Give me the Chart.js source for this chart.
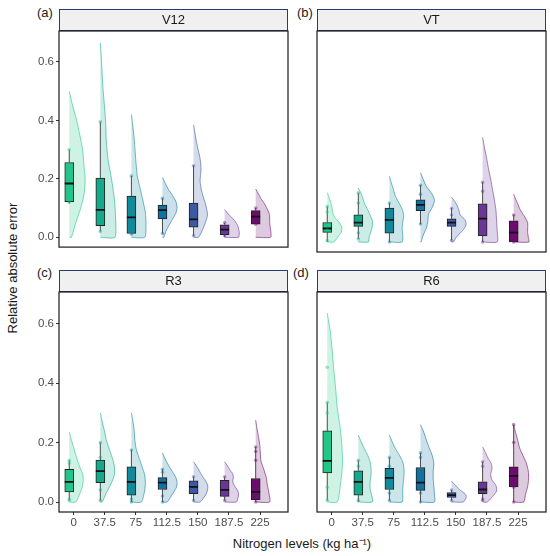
<!DOCTYPE html>
<html>
<head>
<meta charset="utf-8">
<script src="https://cdn.jsdelivr.net/npm/chart.js@4/dist/chart.umd.min.js"></script>
<style>
  body { margin: 0; width: 550px; height: 556px; position: relative; background: #fff; overflow: hidden;
         font-family: "Liberation Sans", Arial, Helvetica, sans-serif; }
  canvas { position: absolute; }
  .txt { position: absolute; color: #1a1a1a; font-size: 13px; white-space: nowrap; }
</style>
</head>
<body>
<div class="txt" style="left:37px; top:5px;">(a)</div>
<div class="txt" style="left:297px; top:5px;">(b)</div>
<div class="txt" style="left:37px; top:265px;">(c)</div>
<div class="txt" style="left:293px; top:265px;">(d)</div>
<div class="txt" style="left:12px; top:268px; transform: translate(-50%, -50%) rotate(-90deg);">Relative absolute error</div>
<div class="txt" style="left:302px; top:543px; transform: translate(-50%, -50%);">Nitrogen levels (kg ha⁻¹)</div>

<canvas id="p0" width="268" height="256" style="left:24px; top:0px;"></canvas>
<canvas id="p1" width="250" height="256" style="left:300px; top:0px;"></canvas>
<canvas id="p2" width="268" height="296" style="left:24px; top:260px;"></canvas>
<canvas id="p3" width="250" height="296" style="left:300px; top:260px;"></canvas>

<script>
// growth stages (facets) and nitrogen levels (x categories)
const stages = ['V12', 'VT', 'R3', 'R6'];
const nitrogenLevels = ['0', '37.5', '75', '112.5', '150', '187.5', '225'];
const yTicks = [0, 0.2, 0.4, 0.6];

// box plot stats, one row per stage
const boxQ1 = [
  [0.122, 0.040, 0.013, 0.063, 0.035, 0.009, 0.045],
  [0.032, 0.052, 0.029, 0.105, 0.052, 0.020, 0.000],
  [0.034, 0.065, 0.023, 0.042, 0.028, 0.019, 0.008],
  [0.098, 0.023, 0.042, 0.039, 0.015, 0.028, 0.051]
];
const boxMedian = [
  [0.184, 0.094, 0.068, 0.093, 0.061, 0.026, 0.071],
  [0.045, 0.065, 0.074, 0.124, 0.065, 0.078, 0.031],
  [0.068, 0.104, 0.068, 0.065, 0.051, 0.041, 0.034],
  [0.138, 0.068, 0.081, 0.065, 0.023, 0.042, 0.088]
];
const boxQ3 = [
  [0.256, 0.203, 0.141, 0.110, 0.117, 0.043, 0.091],
  [0.065, 0.091, 0.113, 0.141, 0.077, 0.128, 0.071],
  [0.110, 0.141, 0.118, 0.082, 0.071, 0.073, 0.079],
  [0.239, 0.105, 0.113, 0.116, 0.032, 0.068, 0.118]
];
const whiskerLow = [
  [0.115, 0.020, 0.010, 0.013, 0.005, 0.002, 0.045],
  [0.000, 0.010, 0.000, 0.060, 0.005, 0.000, 0.000],
  [0.005, 0.005, 0.000, 0.000, 0.005, 0.005, 0.000],
  [0.005, 0.000, 0.005, 0.000, 0.005, 0.005, 0.000]
];
const whiskerHigh = [
  [0.300, 0.395, 0.210, 0.133, 0.245, 0.050, 0.100],
  [0.119, 0.164, 0.130, 0.190, 0.113, 0.200, 0.090],
  [0.140, 0.200, 0.175, 0.110, 0.085, 0.085, 0.185],
  [0.335, 0.140, 0.150, 0.165, 0.040, 0.135, 0.260]
];

// raw observations shown as dots
const obsV12 = [[0.30, 0.12], [0.395, 0.02], [0.21, 0.01], [0.133, 0.013], [0.245, 0.005], [0.05, 0.005], [0.10, 0.045]];
const obsVT = [[0.119, 0.10, 0.005, 0.04], [0.164, 0.13, 0.03, 0.01], [0.13, 0.08, 0.0], [0.19, 0.16, 0.06],
               [0.113, 0.09, 0.005], [0.20, 0.17, 0.0], [0.09, 0.0, 0.005]];
const obsR3 = [[0.14, 0.13, 0.01, 0.005], [0.20, 0.15, 0.04, 0.005], [0.175, 0.0, 0.01], [0.11, 0.10, 0.0, 0.02],
               [0.085, 0.005], [0.085, 0.005, 0.02], [0.185, 0.17, 0.14, 0.0]];
const obsR6 = [[0.453, 0.335, 0.30, 0.20, 0.05, 0.005], [0.14, 0.12, 0.005], [0.15, 0.12, 0.03, 0.005],
               [0.165, 0.15, 0.03, 0.0], [0.04, 0.005], [0.135, 0.12, 0.01, 0.005], [0.26, 0.20, 0.05, 0.0]];
const observations = [obsV12, obsVT, obsR3, obsR6];

// half-violin: top of density and its width (x units) at 11 even steps from 0 to top
const violinTop = [
  [0.50, 0.665, 0.42, 0.205, 0.385, 0.095, 0.165],
  [0.165, 0.18, 0.22, 0.232, 0.15, 0.35, 0.16],
  [0.235, 0.30, 0.30, 0.165, 0.135, 0.135, 0.275],
  [0.635, 0.225, 0.225, 0.26, 0.07, 0.185, 0.26]
];
const violinV12 = [
  [0.07, 0.21, 0.37, 0.48, 0.51, 0.47, 0.43, 0.34, 0.24, 0.11, 0],
  [0.47, 0.49, 0.45, 0.36, 0.25, 0.19, 0.17, 0.12, 0.07, 0.04, 0],
  [0.43, 0.47, 0.45, 0.37, 0.28, 0.19, 0.15, 0.12, 0.09, 0.05, 0],
  [0.04, 0.11, 0.21, 0.32, 0.43, 0.47, 0.43, 0.32, 0.19, 0.09, 0],
  [0.16, 0.34, 0.45, 0.38, 0.27, 0.21, 0.24, 0.21, 0.13, 0.06, 0],
  [0.45, 0.47, 0.47, 0.45, 0.43, 0.38, 0.32, 0.24, 0.15, 0.07, 0],
  [0.48, 0.49, 0.47, 0.45, 0.45, 0.43, 0.36, 0.28, 0.17, 0.09, 0]
];
const violinVT = [
  [0.21, 0.34, 0.45, 0.47, 0.38, 0.24, 0.17, 0.15, 0.11, 0.06, 0],
  [0.32, 0.35, 0.41, 0.45, 0.45, 0.38, 0.30, 0.21, 0.15, 0.09, 0],
  [0.41, 0.43, 0.41, 0.43, 0.46, 0.41, 0.30, 0.19, 0.13, 0.06, 0],
  [0.02, 0.09, 0.19, 0.24, 0.26, 0.38, 0.45, 0.36, 0.19, 0.09, 0],
  [0.06, 0.15, 0.28, 0.41, 0.47, 0.43, 0.28, 0.24, 0.19, 0.11, 0],
  [0.47, 0.47, 0.45, 0.43, 0.38, 0.32, 0.26, 0.19, 0.13, 0.06, 0],
  [0.49, 0.47, 0.45, 0.45, 0.45, 0.38, 0.28, 0.19, 0.13, 0.06, 0]
];
const violinR3 = [
  [0.21, 0.32, 0.41, 0.45, 0.43, 0.34, 0.26, 0.19, 0.13, 0.06, 0],
  [0.06, 0.19, 0.34, 0.45, 0.45, 0.38, 0.28, 0.19, 0.13, 0.06, 0],
  [0.32, 0.41, 0.45, 0.43, 0.34, 0.24, 0.15, 0.11, 0.09, 0.05, 0],
  [0.15, 0.26, 0.36, 0.45, 0.47, 0.43, 0.34, 0.24, 0.15, 0.07, 0],
  [0.21, 0.32, 0.41, 0.45, 0.46, 0.41, 0.32, 0.24, 0.17, 0.09, 0],
  [0.38, 0.43, 0.45, 0.41, 0.32, 0.26, 0.28, 0.26, 0.17, 0.09, 0],
  [0.45, 0.43, 0.38, 0.34, 0.26, 0.17, 0.15, 0.13, 0.09, 0.04, 0]
];
const violinR6 = [
  [0.32, 0.43, 0.49, 0.47, 0.41, 0.32, 0.27, 0.21, 0.16, 0.10, 0],
  [0.45, 0.43, 0.38, 0.38, 0.41, 0.41, 0.38, 0.30, 0.19, 0.09, 0],
  [0.41, 0.43, 0.43, 0.45, 0.47, 0.47, 0.43, 0.32, 0.19, 0.09, 0],
  [0.45, 0.45, 0.43, 0.41, 0.41, 0.43, 0.38, 0.28, 0.19, 0.11, 0],
  [0.38, 0.43, 0.47, 0.47, 0.43, 0.34, 0.26, 0.19, 0.13, 0.06, 0],
  [0.15, 0.32, 0.45, 0.43, 0.30, 0.26, 0.30, 0.28, 0.17, 0.09, 0],
  [0.32, 0.38, 0.45, 0.48, 0.47, 0.41, 0.30, 0.19, 0.13, 0.06, 0]
];
const violinWidths = [violinV12, violinVT, violinR3, violinR6];

const groupColors = ['#1fc78a', '#15a98b', '#10899a', '#1171a1', '#3b5aa1', '#6a3796', '#6a0d6d'];

const FONT = '"Liberation Sans", Arial, Helvetica, sans-serif';
const BOX_SHIFT = -0.14;   // box + cloud sit a bit left of the tick
const BOX_HALF = 0.145;

function rgba(hex, a) {
  const n = parseInt(hex.slice(1), 16);
  return `rgba(${(n >> 16) & 255},${(n >> 8) & 255},${n & 255},${a})`;
}

const stripPlugin = {
  id: 'strip',
  beforeDraw(chart) {
    const t = chart.titleBlock;
    if (!t) return;
    const ctx = chart.ctx;
    ctx.save();
    ctx.fillStyle = '#f0f0f0';
    ctx.fillRect(t.left, t.top, t.width, t.height);
    ctx.strokeStyle = '#22406e';
    ctx.lineWidth = 1;
    ctx.strokeRect(t.left + 0.5, t.top + 0.5, t.width - 1, t.height - 1);
    ctx.restore();
  }
};

const framePlugin = {
  id: 'frame',
  afterDatasetsDraw(chart) {
    const a = chart.chartArea;
    const ctx = chart.ctx;
    ctx.save();
    ctx.strokeStyle = '#1a1a1a';
    ctx.lineWidth = 1.2;
    ctx.strokeRect(a.left, a.top, a.right - a.left, a.bottom - a.top);
    ctx.restore();
  }
};

function makePanel(s) {
  const leftCol = s % 2 === 0;
  const bottomRow = s >= 2;
  const datasets = [];

  // half violins (clouds)
  groupColors.forEach((c, g) => {
    const base = g + BOX_SHIFT;
    const widths = violinWidths[s][g];
    const top = violinTop[s][g];
    const pts = [{ x: base, y: 0 }];
    widths.forEach((w, k) => pts.push({ x: base + w, y: top * k / (widths.length - 1) }));
    datasets.push({
      type: 'line', data: pts, order: 5,
      borderColor: rgba(c, 0.75), backgroundColor: rgba(c, 0.22), borderWidth: 0.8,
      fill: 'shape', tension: 0.22, pointRadius: 0
    });
  });

  // whiskers
  const whisk = [];
  groupColors.forEach((c, g) => {
    const x = g + BOX_SHIFT;
    whisk.push({ x, y: whiskerLow[s][g] }, { x, y: boxQ1[s][g] }, { x, y: null });
    whisk.push({ x, y: boxQ3[s][g] }, { x, y: whiskerHigh[s][g] }, { x, y: null });
  });
  datasets.push({ type: 'line', data: whisk, order: 4, borderColor: '#4a4a4a', borderWidth: 1,
                  pointRadius: 0, fill: false, spanGaps: false });

  // boxes
  datasets.push({
    type: 'bar', order: 3,
    data: groupColors.map((c, g) => ({ x: g + BOX_SHIFT, y: [boxQ1[s][g], boxQ3[s][g]] })),
    backgroundColor: groupColors, borderColor: '#222', borderWidth: 1, borderSkipped: false,
    barThickness: 9, grouped: false
  });

  // medians
  const med = [];
  groupColors.forEach((c, g) => {
    const x = g + BOX_SHIFT;
    med.push({ x: x - BOX_HALF, y: boxMedian[s][g] }, { x: x + BOX_HALF, y: boxMedian[s][g] }, { x, y: null });
  });
  datasets.push({ type: 'line', data: med, order: 2, borderColor: '#111', borderWidth: 1.8,
                  pointRadius: 0, fill: false, spanGaps: false });

  // observations
  const dots = [], dotColors = [];
  observations[s].forEach((vals, g) => vals.forEach(v => {
    dots.push({ x: g + BOX_SHIFT, y: v });
    dotColors.push(rgba(groupColors[g], 0.45));
  }));
  datasets.push({ type: 'scatter', data: dots, order: 1, pointRadius: 1.8, pointBorderWidth: 0,
                  pointBackgroundColor: dotColors });

  new Chart(document.getElementById('p' + s), {
    type: 'bar',
    data: { datasets },
    plugins: [stripPlugin, framePlugin],
    options: {
      responsive: false,
      animation: false,
      events: [],
      layout: { padding: { left: leftCol ? 0 : 17, right: 3, top: bottomRow ? 10 : 9, bottom: bottomRow ? 24 : 4 } },
      plugins: {
        legend: { display: false },
        tooltip: { enabled: false },
        title: {
          display: true, text: stages[s], fullSize: false, color: '#1a1a1a',
          font: { size: 13, family: FONT, weight: 'normal' }, padding: { top: 3.6, bottom: 2.8 }
        }
      },
      scales: {
        x: {
          type: 'linear', min: -0.47, max: 6.9, offset: false, display: bottomRow,
          afterBuildTicks: ax => { ax.ticks = nitrogenLevels.map((l, i) => ({ value: i })); },
          afterFit: ax => { if (bottomRow) ax.height = 20; },
          ticks: { callback: v => nitrogenLevels[Math.round(v)], autoSkip: false, maxRotation: 0,
                   color: '#4d4d4d', font: { size: 11.5, family: FONT }, padding: 1 },
          grid: { offset: false, drawOnChartArea: false, tickLength: 3, color: '#333' },
          border: { display: false }
        },
        y: {
          type: 'linear', min: -0.0336, max: 0.706, display: leftCol,
          afterBuildTicks: ax => { ax.ticks = yTicks.map(v => ({ value: v })); },
          afterFit: ax => { if (leftCol) ax.width = 35; },
          ticks: { callback: v => v.toFixed(1), color: '#4d4d4d', font: { size: 11.5, family: FONT }, padding: 2 },
          grid: { drawOnChartArea: false, tickLength: 3, color: '#333' },
          border: { display: false }
        }
      }
    }
  });
}

stages.forEach((st, s) => makePanel(s));
</script>
</body>
</html>
